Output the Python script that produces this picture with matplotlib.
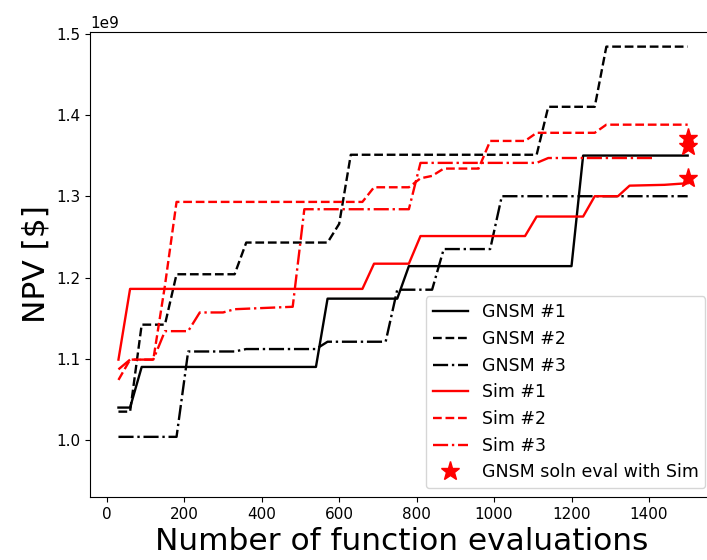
import matplotlib
matplotlib.use('Agg')
import matplotlib.pyplot as plt

# vertices of each best-so-far curve (function evaluations, NPV in 1e9 $)
gnsm1_x = [30, 60, 90, 540, 570, 750, 780, 1200, 1230, 1500]
gnsm1_y = [1.040, 1.040, 1.090, 1.090, 1.174, 1.174, 1.214, 1.214, 1.350, 1.350]

gnsm2_x = [30, 60, 90, 150, 180, 330, 360, 570, 600, 630, 1110, 1140, 1260, 1290, 1500]
gnsm2_y = [1.035, 1.035, 1.142, 1.142, 1.204, 1.204, 1.243, 1.243, 1.266, 1.351,
           1.351, 1.410, 1.410, 1.484, 1.484]

gnsm3_x = [30, 180, 210, 330, 360, 540, 570, 720, 750, 840, 870, 990, 1020, 1500]
gnsm3_y = [1.004, 1.004, 1.109, 1.109, 1.112, 1.112, 1.121, 1.121, 1.185, 1.185,
           1.235, 1.235, 1.300, 1.300]

sim1_x = [30, 60, 660, 690, 780, 810, 1080, 1110, 1230, 1260, 1320, 1350, 1440, 1500]
sim1_y = [1.099, 1.186, 1.186, 1.217, 1.217, 1.251, 1.251, 1.275, 1.275, 1.300,
          1.300, 1.313, 1.314, 1.316]

sim2_x = [30, 60, 120, 150, 180, 660, 690, 780, 810, 840, 870, 960, 990, 1080, 1110,
          1260, 1290, 1500]
sim2_y = [1.074, 1.099, 1.099, 1.190, 1.293, 1.293, 1.311, 1.311, 1.322, 1.325, 1.334,
          1.334, 1.368, 1.368, 1.378, 1.378, 1.388, 1.388]

sim3_x = [30, 60, 120, 150, 210, 240, 300, 330, 480, 510, 780, 810, 1110, 1140, 1410]
sim3_y = [1.087, 1.099, 1.099, 1.134, 1.134, 1.157, 1.157, 1.161, 1.164, 1.284,
          1.284, 1.341, 1.341, 1.347, 1.347]

star_x = [1500, 1500, 1500]
star_y = [1.372, 1.362, 1.323]

scale = 1e9
lw = 1.7

fig = plt.figure(figsize=(7.07, 5.6), dpi=100)
ax = fig.add_axes([90 / 707, 63 / 560, 624 / 707, 465 / 560])

ax.plot(gnsm1_x, [v * scale for v in gnsm1_y], 'k-', lw=lw, label='GNSM #1')
ax.plot(gnsm2_x, [v * scale for v in gnsm2_y], 'k--', lw=lw, label='GNSM #2')
ax.plot(gnsm3_x, [v * scale for v in gnsm3_y], 'k-.', lw=lw, label='GNSM #3')
ax.plot(sim1_x, [v * scale for v in sim1_y], 'r-', lw=lw, label='Sim #1')
ax.plot(sim2_x, [v * scale for v in sim2_y], 'r--', lw=lw, label='Sim #2')
ax.plot(sim3_x, [v * scale for v in sim3_y], 'r-.', lw=lw, label='Sim #3')
ax.plot(star_x, [v * scale for v in star_y], 'r*', markersize=14, linestyle='none',
        label='GNSM soln eval with Sim')

ax.set_xlim(-43.5, 1568)
ax.set_ylim(0.930 * scale, 1.502 * scale)
ax.tick_params(labelsize=11)
ax.yaxis.get_offset_text().set_fontsize(11)
ax.set_xlabel('Number of function evaluations', fontsize=22.5)
ax.set_ylabel('NPV [$]', fontsize=22.5)
ax.legend(loc='lower right', fontsize=12.5)

fig.savefig('out.png', dpi=100)
